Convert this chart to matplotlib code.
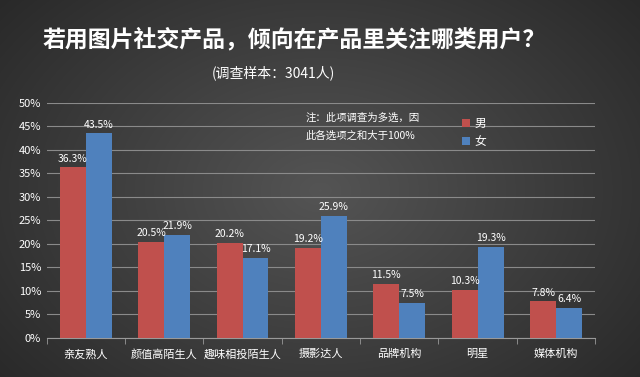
import numpy as np
import matplotlib
matplotlib.use("Agg")
import matplotlib.pyplot as plt

plt.rcParams['font.family'] = ['Noto Sans CJK SC', 'DejaVu Sans']

categories = ["亲友熟人", "颜值高陌生人", "趣味相投陌生人", "摄影达人", "品牌机构", "明星", "媒体机构"]
male = [36.3, 20.5, 20.2, 19.2, 11.5, 10.3, 7.8]
female = [43.5, 21.9, 17.1, 25.9, 7.5, 19.3, 6.4]
yticks = [0, 5, 10, 15, 20, 25, 30, 35, 40, 45, 50]

fig = plt.figure(figsize=(6.4, 3.77), dpi=100)
# background radial gradient
bg = fig.add_axes([0, 0, 1, 1], zorder=-10)
yy, xx = np.mgrid[0:377, 0:640]
r = np.sqrt(((xx - 320) / 420.0) ** 2 + ((yy - 190) / 300.0) ** 2)
val = np.clip(0.33 - 0.17 * r, 0.12, 0.4)
img = np.dstack([val, val, val])
bg.imshow(img, aspect='auto', extent=[0, 1, 0, 1])
bg.axis('off')

ax = fig.add_axes([0.073, 0.1035, 0.857, 0.6235])
ax.patch.set_alpha(0)
x = np.arange(len(categories))
w = 0.33
red = '#c0504d'
blue = '#4f81bd'
b1 = ax.bar(x - w / 2, male, w, color=red, label='男', zorder=3)
b2 = ax.bar(x + w / 2, female, w, color=blue, label='女', zorder=3)
for bars, vals in ((b1, male), (b2, female)):
    for b, v in zip(bars, vals):
        ax.text(b.get_x() + b.get_width() / 2, v + 0.8, f"{v}%", ha='center', va='bottom',
                color='white', fontsize=7.5)

ax.set_xlim(-0.5, len(categories) - 0.5)
ax.set_ylim(0, 50)
ax.set_yticks(yticks)
ax.set_yticklabels([f"{t}%" for t in yticks], color='white', fontsize=8)
ax.set_xticks(x)
ax.set_xticklabels(categories, color='white', fontsize=8)
ax.set_xticks(np.arange(len(categories) + 1) - 0.5, minor=True)
ax.tick_params(axis='x', which='major', length=0, pad=8)
ax.tick_params(axis='x', which='minor', length=4, color='#999999')
ax.tick_params(axis='y', length=0, pad=4)
ax.grid(axis='y', color='#8a8a8a', linewidth=0.8, zorder=0)
for s in ['top', 'right', 'left']:
    ax.spines[s].set_visible(False)
ax.spines['bottom'].set_color('#999999')

leg = ax.legend(loc='upper left', bbox_to_anchor=(0.737, 0.985), frameon=False, fontsize=8.5,
                labelcolor='white', handlelength=0.7, handleheight=0.7, handletextpad=0.4,
                labelspacing=0.45)

fig.text(0.477, 0.687, "注：此项调查为多选，因", color='white', fontsize=7.5, style='italic',
         ha='left', va='center')
fig.text(0.477, 0.639, "此各选项之和大于100%", color='white', fontsize=7.5, style='italic',
         ha='left', va='center')

fig.text(0.46, 0.895, "若用图片社交产品，倾向在产品里关注哪类用户？", color='white', fontsize=16.5,
         fontweight='bold', ha='center', va='center')
fig.text(0.427, 0.806, "(调查样本：3041人)", color='white', fontsize=10, ha='center', va='center')

fig.savefig("out.png", dpi=100)
